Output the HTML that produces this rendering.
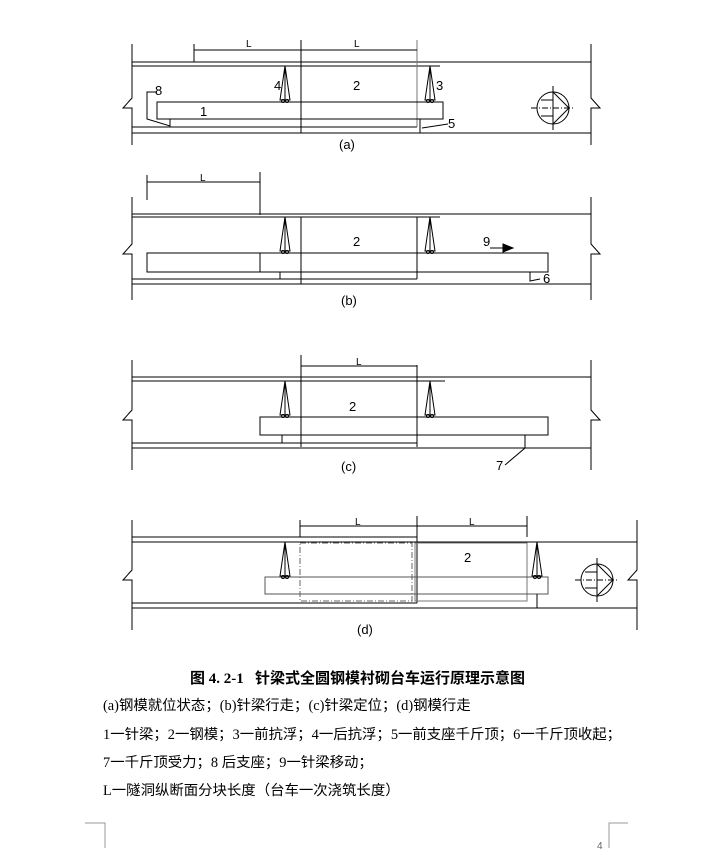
<!DOCTYPE html>
<html><head><meta charset="utf-8"><style>
body{margin:0;background:#fff;width:708px;height:855px;overflow:hidden;position:relative;font-family:"Liberation Serif","Noto Serif CJK SC","Noto Sans CJK SC",serif}
svg{position:absolute;left:0;top:0}
.t{position:absolute;left:103px;font-size:14.4px;color:#000;white-space:nowrap;font-family:"Liberation Serif","Noto Sans CJK SC",serif}
</style></head><body>
<svg width="708" height="855" viewBox="0 0 708 855" font-family="Liberation Sans, sans-serif" font-size="12" fill="none" stroke="#000" stroke-width="1">
<defs>
<g id="jk"><path d="M0 0 L-5 34 L5 34 Z M0 0 V34"/><circle cx="-2" cy="35" r="1.5"/><circle cx="2" cy="35" r="1.5"/></g>
<g id="cir"><circle r="16"/><path d="M-22 0 H22" stroke-dasharray="6 2 1 2"/><path d="M0 -22 V22 M0 -16 L16 0 L0 16"/><path d="M-12 -8 H0 M-12 8 H0"/></g>
</defs>
<!-- (a) -->
<g>
<path d="M132 44 V98 L123 108 H132 V145 M591 44 V98 L600 108 H591 V145"/>
<path d="M132 62 H591 M132 66 H440 M132 127 H417 M132 133 H591"/>
<path d="M301 40 V133"/><path d="M417 40 V127" stroke="#777"/>
<path d="M194 44 V62 M194 50 H417"/>
<rect x="157" y="102" width="286" height="17"/>
<path d="M157 92 H147 V119 L170 126 V119 M420 119 V133 M422 128 L448 124"/>
<use href="#jk" x="285" y="66"/><use href="#jk" x="430" y="66"/>
<use href="#cir" x="553" y="108"/>
</g>
<!-- (b) -->
<g>
<path d="M147 175 V200 M260 172 V215 M147 182 H260"/>
<path d="M132 197 V244 L123 254 H132 V300 M591 197 V244 L600 254 H591 V300"/>
<path d="M132 214 H591 M132 217 H440 M132 279 H417 M132 284 H591"/>
<path d="M301 217 V284 M417 217 V279"/>
<rect x="147" y="253" width="401" height="19"/>
<path d="M260 253 V272 M280 272 V279 M530 272 V281 L540 279"/>
<use href="#jk" x="285" y="217"/><use href="#jk" x="430" y="217"/>
<path d="M490 248 H503"/><path d="M503 244 L513 248 L503 252 Z" fill="#000"/>
</g>
<!-- (c) -->
<g>
<path d="M132 360 V410 L123 420 H132 V470 M591 360 V410 L600 420 H591 V470"/>
<path d="M301 355 V447 M417 365 V447 M301 366 H417"/>
<path d="M132 377 H591 M132 381 H445 M132 443 H417 M132 448 H591"/>
<rect x="260" y="417" width="288" height="18"/>
<path d="M282 435 V443 M525 435 V448 L505 465"/>
<use href="#jk" x="285" y="381"/><use href="#jk" x="430" y="381"/>
</g>
<!-- (d) -->
<g>
<path d="M132 520 V570 L123 580 H132 V630 M637 520 V570 L628 580 H637 V630"/>
<path d="M300 520 V537 M417 516 V603 M527 516 V537 M300 526 H527"/>
<path d="M132 537 H417 M132 542 H637 M132 603 H417 M132 608 H637"/>
<rect x="300" y="543" width="112" height="58" stroke="#666" stroke-dasharray="6 2 1 2"/>
<rect x="415" y="543" width="112" height="58" stroke="#777"/>
<rect x="265" y="577" width="283" height="17" stroke="#555"/>
<path d="M537 594 V608"/>
<use href="#jk" x="285" y="542"/><use href="#jk" x="537" y="542"/>
<use href="#cir" x="597" y="580"/>
</g>
<path d="M85 823 H105 V848 M609 848 V823 H628" stroke="#999"/>
<g fill="#000" stroke="none" font-size="13">
<text x="246" y="47" font-size="10">L</text><text x="354" y="47" font-size="10">L</text>
<text x="274" y="90">4</text><text x="353" y="90">2</text><text x="436" y="90">3</text>
<text x="155" y="95">8</text><text x="200" y="116">1</text><text x="448" y="128">5</text>
<text x="339" y="149">(a)</text>
<text x="200" y="181" font-size="10">L</text>
<text x="353" y="246">2</text><text x="483" y="246">9</text><text x="543" y="283">6</text>
<text x="341" y="305">(b)</text>
<text x="356" y="365" font-size="10">L</text>
<text x="349" y="411">2</text><text x="496" y="470">7</text>
<text x="341" y="471">(c)</text>
<text x="355" y="525" font-size="10">L</text><text x="469" y="525" font-size="10">L</text>
<text x="464" y="562">2</text>
<text x="357" y="634">(d)</text>
<text x="597" y="849" font-size="10" fill="#666">4</text>
</g>
</svg>
<div class="t" style="left:190px;top:667px;font-weight:bold;font-size:15px">图 4. 2-1&nbsp;&nbsp; 针梁式全圆钢模衬砌台车运行原理示意图</div>
<div class="t" style="top:694px">(a)钢模就位状态；(b)针梁行走；(c)针梁定位；(d)钢模行走</div>
<div class="t" style="top:723px">1一针梁；2一钢模；3一前抗浮；4一后抗浮；5一前支座千斤顶；6一千斤顶收起；</div>
<div class="t" style="top:751px">7一千斤顶受力；8 后支座；9一针梁移动；</div>
<div class="t" style="top:779px">L一隧洞纵断面分块长度（台车一次浇筑长度）</div>
</body></html>
